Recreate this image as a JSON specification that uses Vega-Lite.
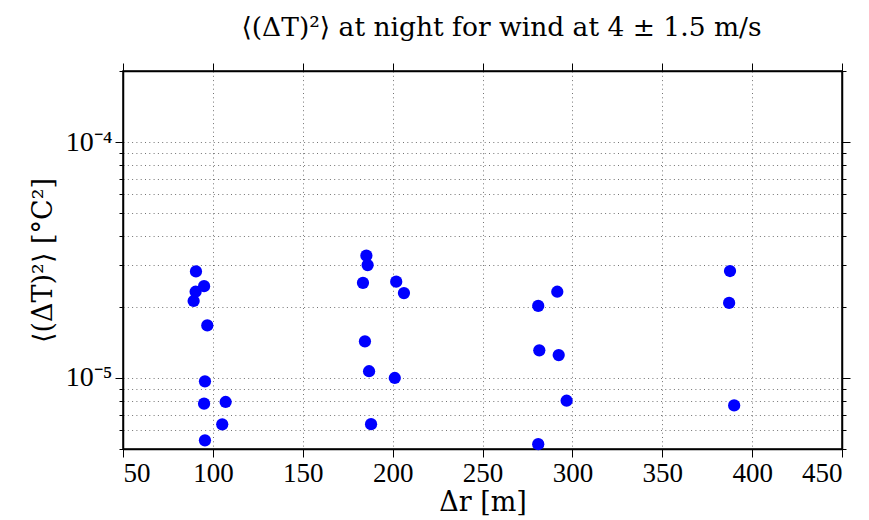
{
  "$schema": "https://vega.github.io/schema/vega-lite/v6.json",
  "width": 719,
  "height": 378,
  "autosize": "none",
  "padding": {"left": 123, "top": 71, "right": 27, "bottom": 71},
  "background": "white",
  "config": {
    "font": "Liberation Serif",
    "view": {"stroke": "black", "strokeWidth": 1.5},
    "axis": {
      "domainColor": "black", "domainWidth": 1.5,
      "tickColor": "black", "tickWidth": 1,
      "labelFont": "Liberation Serif", "labelFontSize": 27, "labelColor": "black",
      "titleFont": "DejaVu Serif", "titleFontWeight": "normal", "titleColor": "black"
    }
  },
  "title": {
    "text": "⟨(ΔT)²⟩ at night for wind at 4 ± 1.5 m/s",
    "font": "DejaVu Serif", "fontSize": 26.5, "fontWeight": "normal",
    "color": "black", "anchor": "middle", "offset": 21, "dx": 19
  },
  "data": {
    "values": [
      {"dr": 90.6, "v": 2.83e-5},
      {"dr": 95.1, "v": 2.45e-5},
      {"dr": 90.4, "v": 2.32e-5},
      {"dr": 89.3, "v": 2.12e-5},
      {"dr": 96.9, "v": 1.67e-5},
      {"dr": 95.6, "v": 9.68e-6},
      {"dr": 95.1, "v": 7.78e-6},
      {"dr": 107.1, "v": 7.91e-6},
      {"dr": 105.2, "v": 6.36e-6},
      {"dr": 95.6, "v": 5.44e-6},
      {"dr": 185.4, "v": 3.30e-5},
      {"dr": 186.1, "v": 3.01e-5},
      {"dr": 183.5, "v": 2.53e-5},
      {"dr": 202.0, "v": 2.56e-5},
      {"dr": 206.3, "v": 2.29e-5},
      {"dr": 184.6, "v": 1.43e-5},
      {"dr": 186.9, "v": 1.068e-5},
      {"dr": 201.2, "v": 1.0e-5},
      {"dr": 188.0, "v": 6.37e-6},
      {"dr": 291.6, "v": 2.32e-5},
      {"dr": 281.0, "v": 2.02e-5},
      {"dr": 281.6, "v": 1.31e-5},
      {"dr": 292.4, "v": 1.25e-5},
      {"dr": 296.8, "v": 8.01e-6},
      {"dr": 281.0, "v": 5.24e-6},
      {"dr": 387.7, "v": 2.84e-5},
      {"dr": 387.2, "v": 2.08e-5},
      {"dr": 390.0, "v": 7.65e-6}
    ]
  },
  "layer": [
    {
      "mark": {"type": "point", "filled": true, "color": "#0000ff", "opacity": 1, "size": 150, "shape": "circle"},
      "encoding": {
        "x": {
          "field": "dr", "type": "quantitative",
          "scale": {"domain": [50, 450], "nice": false, "zero": false},
          "axis": {
            "orient": "bottom", "values": [50, 100, 150, 200, 250, 300, 350, 400, 450],
            "title": "Δr [m]", "titleFontSize": 27, "titlePadding": 3,
            "tickSize": 8, "labelPadding": 3,
            "grid": true, "gridColor": "black", "gridOpacity": 0.55, "gridDash": [1, 3.3], "gridWidth": 1
          }
        },
        "y": {
          "field": "v", "type": "quantitative",
          "scale": {"type": "log", "domain": [5e-6, 2e-4], "nice": false},
          "axis": {
            "orient": "left",
            "values": [5e-6, 6e-6, 7e-6, 8e-6, 9e-6, 1e-5, 2e-5, 3e-5, 4e-5, 5e-5, 6e-5, 7e-5, 8e-5, 9e-5, 1e-4, 2e-4],
            "labelExpr": "abs(log(datum.value)/LN10 + 5) < 0.01 ? '10⁻⁵' : (abs(log(datum.value)/LN10 + 4) < 0.01 ? '10⁻⁴' : '')",
            "tickSize": {"condition": {"test": "abs(log(datum.value)/LN10 - round(log(datum.value)/LN10)) < 0.01", "value": 8}, "value": 4},
            "labelPadding": 3, "labelFontSize": 28,
            "title": "⟨(ΔT)²⟩ [°C²]", "titleFontSize": 27, "titlePadding": 8,
            "grid": true, "gridColor": "black", "gridOpacity": 0.55, "gridDash": [1, 3.3], "gridWidth": 1
          }
        }
      }
    },
    {
      "mark": {"type": "point", "opacity": 0},
      "encoding": {
        "x": {
          "field": "dr", "type": "quantitative",
          "scale": {"domain": [50, 450], "nice": false, "zero": false},
          "axis": {
            "orient": "top", "values": [50, 100, 150, 200, 250, 300, 350, 400, 450],
            "labels": false, "title": null, "tickSize": 8, "grid": false
          }
        },
        "y": {
          "field": "v", "type": "quantitative",
          "scale": {"type": "log", "domain": [5e-6, 2e-4], "nice": false},
          "axis": {
            "orient": "right",
            "values": [5e-6, 6e-6, 7e-6, 8e-6, 9e-6, 1e-5, 2e-5, 3e-5, 4e-5, 5e-5, 6e-5, 7e-5, 8e-5, 9e-5, 1e-4, 2e-4],
            "labels": false, "title": null,
            "tickSize": {"condition": {"test": "abs(log(datum.value)/LN10 - round(log(datum.value)/LN10)) < 0.01", "value": 8}, "value": 4},
            "grid": false
          }
        }
      }
    }
  ],
  "resolve": {"axis": {"x": "independent", "y": "independent"}}
}
